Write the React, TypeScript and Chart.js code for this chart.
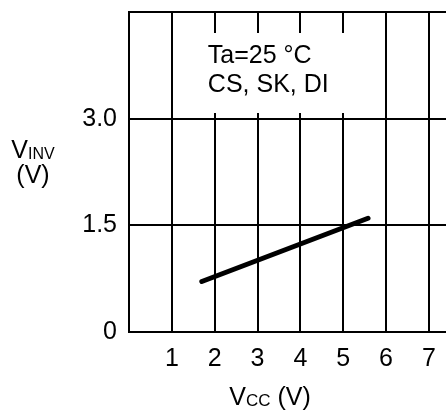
import React, { useEffect, useRef } from "react";
import { Chart, registerables } from "chart.js";

Chart.register(...registerables);

const lineX = [1.7, 5.58];
const lineY = [0.71, 1.6];
const xTickValues = [0, 1, 2, 3, 4, 5, 6, 7];
const xTickLabels = ["", "1", "2", "3", "4", "5", "6", "7"];
const yTickValues = [0, 1.5, 3, 4.5];
const yTickLabels = ["0", "1.5", "3.0", ""];
const noteLines = ["Ta=25 °C", "CS, SK, DI"];

const FONT = "'Liberation Sans', Arial, sans-serif";

export default function App() {
  const ref = useRef<HTMLCanvasElement | null>(null);
  useEffect(() => {
    document.body.style.margin = "0";
    const canvas = ref.current!;
    const overlay = {
      id: "overlay",
      beforeDatasetsDraw(chart: any) {
        const ctx = chart.ctx;
        const xs = chart.scales.x;
        const ca = chart.chartArea;
        const x1 = xs.getPixelForValue(1) + 2;
        const x2 = xs.getPixelForValue(6) - 2;
        ctx.save();
        ctx.fillStyle = "#fff";
        ctx.fillRect(x1, ca.top + 21, x2 - x1, 80);
        ctx.fillStyle = "#000";
        ctx.font = `25px ${FONT}`;
        ctx.textBaseline = "alphabetic";
        ctx.textAlign = "left";
        ctx.fillText(noteLines[0], x1 + 34, ca.top + 51);
        ctx.fillText(noteLines[1], x1 + 34, ca.top + 80);
        ctx.restore();
      },
      afterDraw(chart: any) {
        const ctx = chart.ctx;
        ctx.save();
        ctx.fillStyle = "#000";
        ctx.textBaseline = "alphabetic";
        ctx.textAlign = "left";
        // y title
        ctx.font = `25px ${FONT}`;
        const vW = ctx.measureText("V").width;
        ctx.font = `16px ${FONT}`;
        const invW = ctx.measureText("INV").width;
        const yc = 33;
        const sx = yc - (vW + invW) / 2;
        ctx.font = `25px ${FONT}`;
        ctx.fillText("V", sx, 158);
        ctx.font = `16px ${FONT}`;
        ctx.fillText("INV", sx + vW, 159);
        ctx.font = `25px ${FONT}`;
        ctx.textAlign = "center";
        ctx.fillText("(V)", yc, 183);
        // x title
        ctx.textAlign = "left";
        ctx.font = `25px ${FONT}`;
        const vw2 = ctx.measureText("V").width;
        const restW = ctx.measureText(" (V)").width;
        ctx.font = `17px ${FONT}`;
        const ccW = ctx.measureText("CC").width;
        const total = vw2 + ccW + restW;
        const xc = 270;
        const px = xc - total / 2;
        ctx.font = `25px ${FONT}`;
        ctx.fillText("V", px, 405);
        ctx.font = `17px ${FONT}`;
        ctx.fillText("CC", px + vw2, 406);
        ctx.font = `25px ${FONT}`;
        ctx.fillText(" (V)", px + vw2 + ccW, 405);
        ctx.restore();
      },
    };
    const chart = new Chart(canvas, {
      type: "scatter",
      data: {
        datasets: [
          {
            data: lineX.map((x, i) => ({ x, y: lineY[i] })),
            showLine: true,
            borderColor: "#000",
            borderWidth: 5,
            borderCapStyle: "round",
            pointRadius: 0,
            fill: false,
          },
        ],
      },
      options: {
        responsive: false,
        animation: false,
        devicePixelRatio: 1,
        layout: { padding: { top: 12, right: 0, left: 0, bottom: 0 } },
        plugins: { legend: { display: false }, tooltip: { enabled: false } },
        scales: {
          x: {
            type: "linear",
            min: 0,
            max: 7.4,
            afterBuildTicks: (s: any) => {
              s.ticks = xTickValues.map((v) => ({ value: v }));
            },
            afterFit: (s: any) => {
              s.height = 82;
              s.paddingLeft = 0;
              s.paddingRight = 0;
            },
            grid: { color: "#000", lineWidth: 2, drawTicks: false },
            border: { color: "#000", width: 2 },
            ticks: {
              color: "#000",
              font: { family: FONT, size: 25 },
              padding: 12,
              maxRotation: 0,
              autoSkip: false,
              callback: (v: any) => xTickLabels[xTickValues.indexOf(Number(v))] ?? "",
            },
          },
          y: {
            type: "linear",
            min: 0,
            max: 4.5,
            afterBuildTicks: (s: any) => {
              s.ticks = yTickValues.map((v) => ({ value: v }));
            },
            afterFit: (s: any) => {
              s.width = 129;
              s.paddingTop = 0;
              s.paddingBottom = 0;
            },
            grid: { color: "#000", lineWidth: 2, drawTicks: false },
            border: { color: "#000", width: 2 },
            ticks: {
              color: "#000",
              font: { family: FONT, size: 25 },
              padding: 12,
              autoSkip: false,
              callback: (v: any) => yTickLabels[yTickValues.indexOf(Number(v))] ?? "",
            },
          },
        },
      },
      plugins: [overlay],
    } as any);
    return () => chart.destroy();
  }, []);
  return <canvas ref={ref} width={446} height={414} style={{ display: "block" }} />;
}
